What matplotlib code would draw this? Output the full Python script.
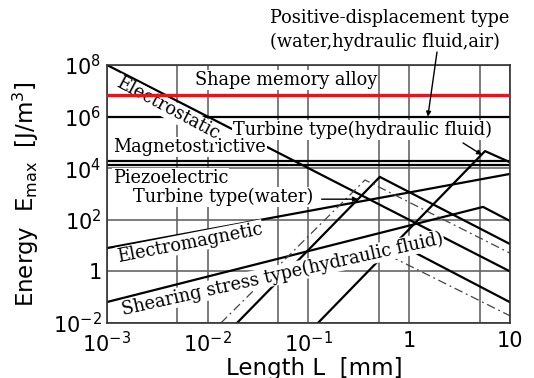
import matplotlib
matplotlib.use('Agg')
import matplotlib.pyplot as plt

# values, L in mm, E in J/m^3
x_lim = [1e-3, 10]
y_lim = [1e-2, 1e8]

sma_E = 7e6           # shape memory alloy (red)
pos_disp_E = 1e6      # positive-displacement type
magneto_E = 1.9e4
piezo_E = 1.3e4

electrostatic_L = [1e-3, 10]
electrostatic_E = [1e8, 1.0]

electromag_L = [1e-3, 10]
electromag_E = [8, 6e3]

shear_L = [1e-3, 5.4, 10]
shear_E = [0.065, 316, 90]

# turbine type (water), solid and dash-dot
turb_w_L = [0.0195, 0.51, 10]
turb_w_E = [1e-2, 4.6e3, 11.5]
turb_w2_L = [0.0135, 0.364, 10]
turb_w2_E = [1e-2, 3.5e3, 5.1]

# turbine type (hydraulic fluid)
turb_h_L = [0.124, 5.65, 10]
turb_h_E = [1e-2, 4.6e4, 1.7e4]
turb_h2_L = [1.06, 10]
turb_h2_E = [6.2, 0.064]
turb_h3_L = [0.64, 10]
turb_h3_E = [4, 0.019]

x_ticks = [1e-3, 1e-2, 1e-1, 1, 10]
x_ticklabels = ['$10^{-3}$', '$10^{-2}$', '$10^{-1}$', '1', '10']
x_grid_minor = [5e-3, 5e-2, 0.5, 5]
y_ticks = [1e-2, 1, 1e2, 1e4, 1e6, 1e8]
y_ticklabels = ['$10^{-2}$', '1', '$10^{2}$', '$10^{4}$', '$10^{6}$', '$10^{8}$']

plt.rcParams['mathtext.default'] = 'regular'

fig = plt.figure(figsize=(5.34, 3.78), dpi=100)
ax = fig.add_axes([107/534, 55/378, 403/534, 258/378])
ax.set_xscale('log')
ax.set_yscale('log')
ax.set_xlim(x_lim)
ax.set_ylim(y_lim)

ax.set_xticks(x_ticks)
ax.set_xticklabels(x_ticklabels)
ax.set_xticks(x_grid_minor, minor=True)
ax.set_xticklabels([], minor=True)
ax.set_yticks(y_ticks)
ax.set_yticklabels(y_ticklabels)
ax.yaxis.set_minor_locator(matplotlib.ticker.NullLocator())
ax.tick_params(which='both', length=0, labelsize=15)
ax.tick_params(axis='x', pad=6)
ax.tick_params(axis='y', pad=4)
ax.grid(True, which='both', axis='x', color='#666666', lw=1.2)
ax.grid(True, which='major', axis='y', color='#666666', lw=1.2)
ax.set_axisbelow(True)
for s in ax.spines.values():
    s.set_color('#333333')
    s.set_linewidth(1.2)

lw = 1.6
dd = dict(color='#444444', lw=0.9, dashes=(7, 3, 1.5, 3))
ax.plot(x_lim, [sma_E, sma_E], color='#e8141b', lw=2.4, zorder=6)
ax.plot(x_lim, [pos_disp_E, pos_disp_E], color='k', lw=lw)
ax.plot(x_lim, [magneto_E, magneto_E], color='k', lw=lw)
ax.plot(x_lim, [piezo_E, piezo_E], color='k', lw=lw)
ax.plot(electrostatic_L, electrostatic_E, color='k', lw=lw)
ax.plot(electromag_L, electromag_E, color='k', lw=lw)
ax.plot(shear_L, shear_E, color='k', lw=lw)
ax.plot(turb_w_L, turb_w_E, color='k', lw=lw)
ax.plot(turb_w2_L, turb_w2_E, **dd)
ax.plot(turb_h_L, turb_h_E, color='k', lw=lw)
ax.plot(turb_h2_L, turb_h2_E, color='k', lw=lw)
ax.plot(turb_h3_L, turb_h3_E, **dd)

# labels inside the plot (white boxes cut the lines like the original)
box = dict(facecolor='white', edgecolor='none', pad=0.5)
serif = dict(family='DejaVu Serif', fontsize=12.8, zorder=5)
ax.text(7.5e-3, 2.6e7, 'Shape memory alloy', ha='left', va='center', bbox=box, **serif)
ax.text(0.0178, 3e5, 'Turbine type(hydraulic fluid)', ha='left', va='center', bbox=box, **serif)
ax.text(1.15e-3, 6.6e4, 'Magnetostrictive', ha='left', va='center', bbox=box, **serif)
ax.text(1.15e-3, 4.2e3, 'Piezoelectric', ha='left', va='center', bbox=box, **serif)
ax.text(1.81e-3, 760, 'Turbine type(water)', ha='left', va='center', bbox=box, **serif)
ax.text(1.26e-3, 2.2e7, 'Electrostatic', ha='left', va='center', rotation=-28,
        rotation_mode='anchor', bbox=box, **serif)
ax.text(1.26e-3, 3.6, 'Electromagnetic', ha='left', va='center', rotation=11,
        rotation_mode='anchor', bbox=box, **serif)
ax.text(1.41e-3, 0.032, 'Shearing stress type(hydraulic fluid)', ha='left', va='center',
        rotation=12.6, rotation_mode='anchor', bbox=box, **serif)

# pointers
arr = dict(arrowstyle='-|>', color='k', lw=1.0, mutation_scale=7, shrinkA=0, shrinkB=0)
ax.annotate('', xy=(1.53, pos_disp_E), xytext=(437/534, 1-52/378),
            textcoords='figure fraction', arrowprops=arr, zorder=7)
ax.annotate('', xy=(5.27, 3.3e4), xytext=(3.42, 9.5e4), arrowprops=arr, zorder=7)
ax.annotate('', xy=(0.31, 630), xytext=(0.135, 630), arrowprops=arr, zorder=7)

fig.text(390/534, 1-18/378, 'Positive-displacement type', ha='center', va='center',
         family='DejaVu Serif', fontsize=12.8)
fig.text(385/534, 1-42/378, '(water,hydraulic fluid,air)', ha='center', va='center',
         family='DejaVu Serif', fontsize=12.8)

ax.set_xlabel('Length L  [mm]', fontsize=16.5)
ax.xaxis.set_label_coords(0.515, -0.13)
ax.set_ylabel('Energy  E$_{max}$  [J/m$^3$]', fontsize=16.5)
ax.yaxis.set_label_coords(-0.165, 0.5)

fig.savefig('out.png', dpi=100)
